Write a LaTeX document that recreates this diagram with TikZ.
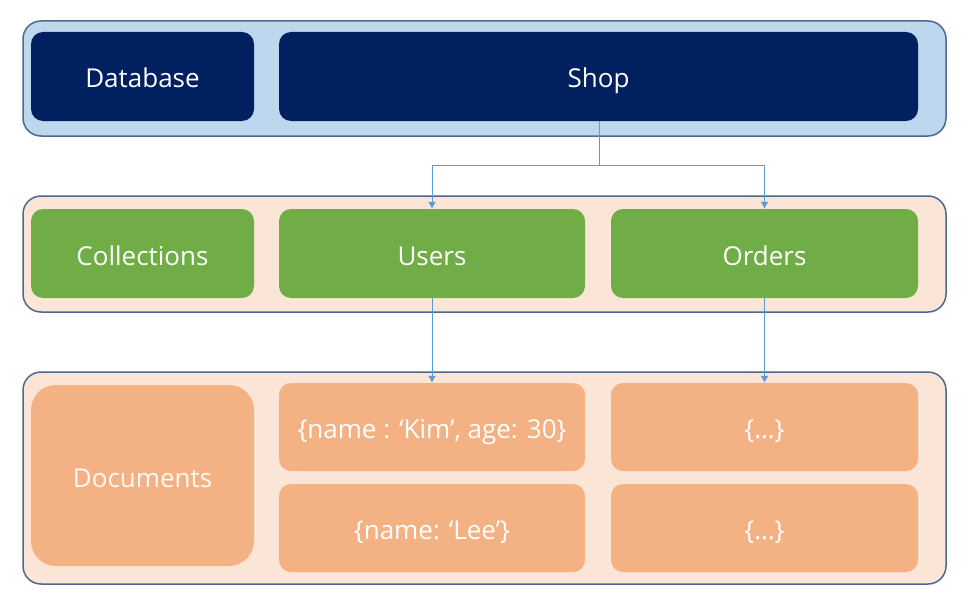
\documentclass[tikz,border=0pt]{standalone}
\usepackage{fontspec}
\setmainfont{Open Sans}
\usetikzlibrary{positioning,arrows.meta}
\definecolor{bandblue}{HTML}{BDD7EE}
\definecolor{bandpeach}{HTML}{FBE5D6}
\definecolor{bandline}{HTML}{4A6A8E}
\definecolor{navy}{HTML}{002060}
\definecolor{leaf}{HTML}{70AD47}
\definecolor{apricot}{HTML}{F4B183}
\definecolor{wire}{HTML}{5B9BD5}
\begin{document}
\begin{tikzpicture}[x=1pt,y=-1pt,
  band/.style = {draw=bandline, line width=1.5pt, rounded corners=18pt},
  box/.style = {shape=rectangle, rounded corners=12pt, text=white,
     font=\fontsize{26}{30}\selectfont, align=center, inner sep=0pt,
     text height=25pt, text depth=2pt},
  dbbox/.style = {box, fill=navy},
  colbox/.style = {box, fill=leaf},
  docbox/.style = {box, fill=apricot},
  link/.style = {draw=wire, line width=1pt, -{Latex[length=7pt,width=8pt]}}]
\useasboundingbox (0,0) rectangle (971,610);
% bands
\draw [band, fill=bandblue] (23,21) rectangle (946,136);
\draw [band, fill=bandpeach] (23,196) rectangle (946,312);
\draw [band, fill=bandpeach] (23,372) rectangle (946,584);
% database row
\node [dbbox, minimum width=223pt, minimum height=89pt] (database) at (142.5,76.5) {Database};
\node [dbbox, minimum width=639pt, minimum height=89pt] (shop) at (598.5,76.5) {Shop};
% collections row
\node [colbox, minimum width=223pt, minimum height=89pt] (collections) at (142.5,253.5) {Collections};
\node [colbox, minimum width=306pt, minimum height=89pt] (users) at (432,253.5) {Users};
\node [colbox, minimum width=307pt, minimum height=89pt] (orders) at (764.5,253.5) {Orders};
% documents row
\node [docbox, rounded corners=25pt, minimum width=223pt, minimum height=181pt, text=white!92!apricot] (documents) at (142.5,475.5) {Documents};
\node [docbox, minimum width=306pt, minimum height=88pt] (kim) at (432,427) {\{name : ‘Kim’, age: 30\}};
\node [docbox, minimum width=306pt, minimum height=88pt] (lee) at (432,528) {\{name: ‘Lee’\}};
\node [docbox, minimum width=307pt, minimum height=88pt] (orderone) at (764.5,427) {\{…\}};
\node [docbox, minimum width=307pt, minimum height=88pt] (ordertwo) at (764.5,528) {\{…\}};
% connectors
\coordinate (split) at (599,165);
\draw [draw=wire, line width=1pt] (shop.south -| split) -- (split);
\draw [link] (split) -| (users.north);
\draw [link] (split) -| (orders.north);
\draw [link] (users.south) -- (kim.north);
\draw [link] (orders.south) -- (orderone.north);
\end{tikzpicture}
\end{document}
